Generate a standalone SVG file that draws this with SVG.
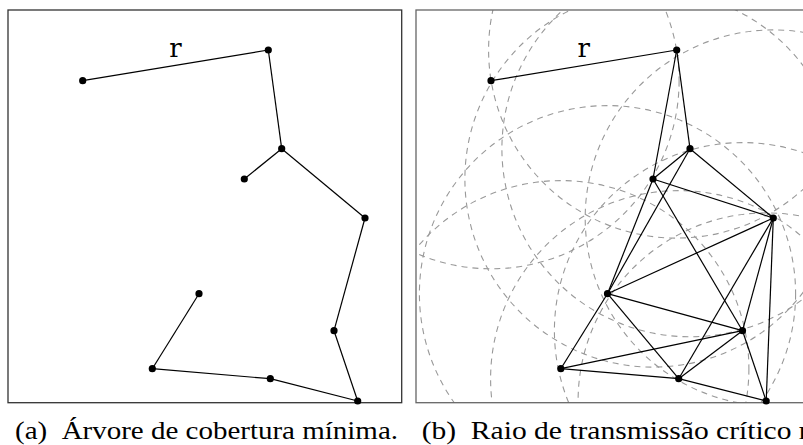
<svg xmlns="http://www.w3.org/2000/svg" width="803" height="445" viewBox="0 0 803 445">
<defs>
<style>
.frame{fill:none;stroke-width:1.3}
.edge{stroke:#000;stroke-width:1.2;fill:none}
.rng{fill:none;stroke:#999;stroke-width:1.1;stroke-dasharray:6 5}
.dot{fill:#000}
.cap{font-family:"Liberation Serif","DejaVu Serif",serif;font-size:25px;fill:#000;white-space:pre}
.rl{font-family:"DejaVu Serif","Liberation Serif",serif;font-size:26px;fill:#000}
</style>
<clipPath id="clipb"><rect x="416" y="10" width="394" height="392.7"/></clipPath>
</defs>
<rect width="803" height="445" fill="#fff"/>

<!-- Panel (a) -->
<rect class="frame" x="8" y="10" width="393.7" height="392.7" stroke="#333"/>
<g id="edges-a" class="edge">
<line x1="82.7" y1="80.7" x2="268.3" y2="50"/>
<line x1="268.3" y1="50" x2="281.7" y2="148.7"/>
<line x1="281.7" y1="148.7" x2="244.3" y2="179"/>
<line x1="281.7" y1="148.7" x2="365" y2="218"/>
<line x1="365" y1="218" x2="334" y2="330.7"/>
<line x1="334" y1="330.7" x2="357.7" y2="401"/>
<line x1="357.7" y1="401" x2="270.3" y2="378.7"/>
<line x1="270.3" y1="378.7" x2="152.3" y2="368.7"/>
<line x1="152.3" y1="368.7" x2="199" y2="293.7"/>
</g>
<g id="a-A"><circle class="dot" cx="82.7" cy="80.7" r="3.6"/></g>
<g id="a-B"><circle class="dot" cx="268.3" cy="50" r="3.6"/></g>
<g id="a-C"><circle class="dot" cx="281.7" cy="148.7" r="3.6"/></g>
<g id="a-D"><circle class="dot" cx="244.3" cy="179" r="3.6"/></g>
<g id="a-E"><circle class="dot" cx="365" cy="218" r="3.6"/></g>
<g id="a-F"><circle class="dot" cx="199" cy="293.7" r="3.6"/></g>
<g id="a-G"><circle class="dot" cx="334" cy="330.7" r="3.6"/></g>
<g id="a-H"><circle class="dot" cx="152.3" cy="368.7" r="3.6"/></g>
<g id="a-I"><circle class="dot" cx="270.3" cy="378.7" r="3.6"/></g>
<g id="a-J"><circle class="dot" cx="357.7" cy="401" r="3.6"/></g>
<text class="rl" x="175.5" y="56.5" text-anchor="middle">r</text>
<text class="cap" x="15" y="438.5" textLength="383" lengthAdjust="spacingAndGlyphs" xml:space="preserve">(a)  Árvore de cobertura mínima.</text>

<!-- Panel (b) -->
<g id="ranges-b" clip-path="url(#clipb)" class="rng">
<circle cx="491" cy="80.7" r="188.1"/>
<circle cx="676.7" cy="50" r="188.1"/>
<circle cx="690" cy="148.7" r="188.1"/>
<circle cx="653" cy="179" r="188.1"/>
<circle cx="773.3" cy="218" r="188.1"/>
<circle cx="607.5" cy="293.7" r="188.1"/>
<circle cx="742.5" cy="330.7" r="188.1"/>
<circle cx="560.8" cy="368.7" r="188.1"/>
<circle cx="678.7" cy="378.7" r="188.1"/>
<circle cx="766.2" cy="401" r="188.1"/>
</g>
<rect class="frame" x="416" y="10" width="394" height="392.7" stroke="#666"/>
<g id="edges-b" class="edge">
<line x1="491" y1="80.7" x2="676.7" y2="50"/>
<line x1="676.7" y1="50" x2="690" y2="148.7"/>
<line x1="676.7" y1="50" x2="653" y2="179"/>
<line x1="690" y1="148.7" x2="653" y2="179"/>
<line x1="690" y1="148.7" x2="773.3" y2="218"/>
<line x1="690" y1="148.7" x2="607.5" y2="293.7"/>
<line x1="653" y1="179" x2="773.3" y2="218"/>
<line x1="653" y1="179" x2="607.5" y2="293.7"/>
<line x1="653" y1="179" x2="742.5" y2="330.7"/>
<line x1="773.3" y1="218" x2="607.5" y2="293.7"/>
<line x1="773.3" y1="218" x2="742.5" y2="330.7"/>
<line x1="773.3" y1="218" x2="678.7" y2="378.7"/>
<line x1="773.3" y1="218" x2="766.2" y2="401"/>
<line x1="607.5" y1="293.7" x2="742.5" y2="330.7"/>
<line x1="607.5" y1="293.7" x2="560.8" y2="368.7"/>
<line x1="607.5" y1="293.7" x2="678.7" y2="378.7"/>
<line x1="742.5" y1="330.7" x2="560.8" y2="368.7"/>
<line x1="742.5" y1="330.7" x2="678.7" y2="378.7"/>
<line x1="742.5" y1="330.7" x2="766.2" y2="401"/>
<line x1="560.8" y1="368.7" x2="678.7" y2="378.7"/>
<line x1="678.7" y1="378.7" x2="766.2" y2="401"/>
</g>
<g id="b-A"><circle class="dot" cx="491" cy="80.7" r="3.6"/></g>
<g id="b-B"><circle class="dot" cx="676.7" cy="50" r="3.6"/></g>
<g id="b-C"><circle class="dot" cx="690" cy="148.7" r="3.6"/></g>
<g id="b-D"><circle class="dot" cx="653" cy="179" r="3.6"/></g>
<g id="b-E"><circle class="dot" cx="773.3" cy="218" r="3.6"/></g>
<g id="b-F"><circle class="dot" cx="607.5" cy="293.7" r="3.6"/></g>
<g id="b-G"><circle class="dot" cx="742.5" cy="330.7" r="3.6"/></g>
<g id="b-H"><circle class="dot" cx="560.8" cy="368.7" r="3.6"/></g>
<g id="b-I"><circle class="dot" cx="678.7" cy="378.7" r="3.6"/></g>
<g id="b-J"><circle class="dot" cx="766.2" cy="401" r="3.6"/></g>
<text class="rl" x="583.8" y="56.5" text-anchor="middle">r</text>
<text class="cap" x="421.7" y="438.5" textLength="387" lengthAdjust="spacingAndGlyphs" xml:space="preserve">(b)  Raio de transmissão crítico r</text>
</svg>
